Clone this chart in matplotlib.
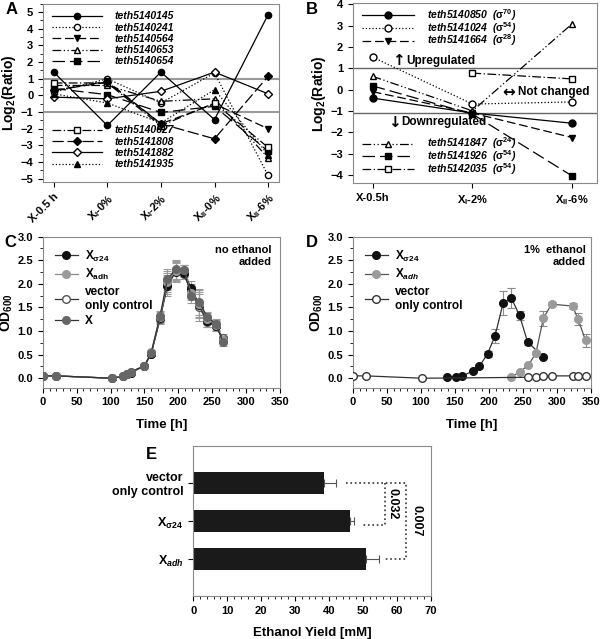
import matplotlib
matplotlib.use('Agg')
import matplotlib.pyplot as plt
from matplotlib.ticker import MultipleLocator

plt.rcParams['font.family'] = ['Liberation Sans', 'DejaVu Sans']
plt.rcParams['font.weight'] = 'bold'
plt.rcParams['axes.labelweight'] = 'bold'
plt.rcParams['mathtext.fontset'] = 'custom'
plt.rcParams['mathtext.default'] = 'bf'
plt.rcParams['mathtext.bf'] = 'Liberation Sans:bold'
plt.rcParams['mathtext.rm'] = 'Liberation Sans:bold'
plt.rcParams['mathtext.it'] = 'Liberation Sans:italic:bold'
plt.rcParams['axes.edgecolor'] = '#8a8a8a'
plt.rcParams['xtick.labelsize'] = 8
plt.rcParams['ytick.labelsize'] = 8

# ---- panel A data ----
a_conditions = ['X-0.5 h', 'X$_I$-0%', 'X$_I$-2%', 'X$_{II}$-0%', 'X$_{II}$-6%']
a_genes = ['teth5140145', 'teth5140241', 'teth5140564', 'teth5140653', 'teth5140654',
           'teth5140627', 'teth5141808', 'teth5141882', 'teth5141935']
teth5140145 = [1.4, -1.8, 1.4, -1.45, 4.85]
teth5140241 = [0.2, 1.0, -0.45, 1.35, -4.8]
teth5140564 = [0.3, 0.85, -1.7, -0.5, -2.0]
teth5140653 = [0.6, 0.6, -0.35, -0.2, -3.75]
teth5140654 = [0.42, 0.05, -1.02, -0.65, -3.35]
teth5140627 = [0.75, 0.75, -1.82, -0.45, -3.12]
teth5141808 = [0.3, 0.8, -1.7, -2.6, 1.15]
teth5141882 = [-0.1, -0.2, 0.25, 1.4, 0.1]
teth5141935 = [0.1, -0.45, -1.65, 0.35, -3.55]

# ---- panel B data ----
b_conditions = ['X-0.5h', 'X$_I$-2%', 'X$_{II}$-6%']
teth5140850 = [-0.4, -1.1, -1.58]
teth5141024 = [1.52, -0.68, -0.58]
teth5141664 = [-0.1, -1.1, -2.25]
teth5141847 = [0.62, -1.0, 3.08]
teth5141926 = [0.17, -1.15, -4.05]
teth5142035 = [None, 0.77, 0.5]

# ---- panel C data ----
time_c = [0, 20, 102, 118, 124, 130, 150, 160, 173, 184, 196, 208, 219, 231, 243, 255, 266]
xs24_c = [0.05, 0.05, 0.0, 0.04, 0.08, 0.12, 0.26, 0.52, 1.27, 1.96, 2.25, 2.24, 1.92, 1.55, 1.21, 1.11, 0.82]
xadh_c = [0.05, 0.05, 0.0, 0.05, 0.09, 0.13, 0.27, 0.55, 1.30, 2.05, 2.28, 2.30, 1.80, 1.58, 1.26, 1.13, 0.80]
vec_c = [0.05, 0.05, 0.0, 0.04, 0.08, 0.12, 0.26, 0.52, 1.25, 2.00, 2.27, 2.20, 1.85, 1.50, 1.20, 1.10, 0.85]
x_c = [0.05, 0.05, 0.0, 0.04, 0.09, 0.14, 0.26, 0.54, 1.32, 2.10, 2.31, 2.29, 1.75, 1.61, 1.29, 1.16, 0.77]
err_c = [0, 0, 0, 0.01, 0.02, 0.02, 0.03, 0.04, 0.10, 0.22, 0.20, 0.10, 0.15, 0.28, 0.12, 0.10, 0.08]

# ---- panel D data ----
time_s24_d = [139, 151, 161, 176, 186, 198, 209, 221, 233, 245, 257, 280]
xs24_d = [0.02, 0.02, 0.05, 0.15, 0.25, 0.52, 0.90, 1.60, 1.70, 1.33, 0.76, 0.46]
err_s24_d = [0, 0, 0, 0.02, 0.03, 0.06, 0.15, 0.25, 0.22, 0.10, 0.05, 0.03]
time_adh_d = [233, 245, 258, 269, 280, 292, 323, 331, 342]
xadh_d = [0.03, 0.13, 0.28, 0.53, 1.27, 1.57, 1.53, 1.25, 0.80]
err_adh_d = [0.01, 0.02, 0.03, 0.04, 0.16, 0.04, 0.06, 0.13, 0.13]
time_vec_d = [0, 20, 102, 258, 269, 280, 292, 323, 331, 342]
vec_d = [0.05, 0.05, 0.0, 0.02, 0.03, 0.04, 0.05, 0.05, 0.05, 0.05]

# ---- panel E data ----
e_strains = ['vector\nonly control', 'X$_{\\sigma24}$', 'X$_{\\mathit{adh}}$']
e_yield = [38.4, 46.3, 50.8]
e_err = [3.8, 1.0, 4.0]

fig = plt.figure(figsize=(6, 6.39), dpi=100)
legfont = {'size': 7.5, 'weight': 'bold', 'style': 'italic'}

# ================= A =================
axA = fig.add_axes([0.0717, 0.715, 0.393, 0.279])
xa = range(len(a_conditions))
styles_a = [
    (teth5140145, '-', 'o', 'k'),
    (teth5140241, ':', 'o', 'w'),
    (teth5140564, (0, (7, 3)), 'v', 'k'),
    (teth5140653, (0, (7, 2, 1, 2, 1, 2)), '^', 'w'),
    (teth5140654, (0, (10, 4)), 's', 'k'),
    (teth5140627, (0, (7, 2, 1, 2)), 's', 'w'),
    (teth5141808, (0, (9, 3)), 'D', 'k'),
    (teth5141882, '-', 'D', 'w'),
    (teth5141935, ':', '^', 'k'),
]
axA.axhline(1, color='#9a9a9a', lw=1.5, zorder=1)
axA.axhline(-1, color='#9a9a9a', lw=1.5, zorder=1)
handles_a = []
for (vals, ls, mk, fc), name in zip(styles_a, a_genes):
    h, = axA.plot(xa, vals, linestyle=ls, marker=mk, color='k', mfc=fc, mec='k',
                  ms=4.5, lw=0.9, label=name, zorder=3)
    handles_a.append(h)
axA.set_xlim(-0.2, 4.2)
axA.set_ylim(-5.2, 5.5)
axA.set_yticks(range(-5, 6))
axA.yaxis.set_minor_locator(MultipleLocator(0.5))
axA.set_xticks(list(xa))
axA.set_xticklabels(a_conditions, rotation=45, ha='right', rotation_mode='anchor')
axA.set_ylabel('Log$_2$(Ratio)', fontsize=10, labelpad=2)
leg_a1 = axA.legend(handles=handles_a[:5], loc='upper left', bbox_to_anchor=(0.0, 1.01),
                    frameon=False, handlelength=4.8, handletextpad=1.2, labelspacing=0.12,
                    prop=legfont)
axA.add_artist(leg_a1)
axA.legend(handles=handles_a[5:], loc='lower left', bbox_to_anchor=(0.0, 0.02),
           frameon=False, handlelength=4.8, handletextpad=1.2, labelspacing=0.12,
           prop=legfont)
fig.text(0.01, 0.997, 'A', fontsize=12, weight='bold', va='top')

# ================= B =================
axB = fig.add_axes([0.588, 0.713, 0.407, 0.282])
xb = range(len(b_conditions))
axB.axhline(1, color='#666666', lw=1.0, zorder=1)
axB.axhline(-1.08, color='#666666', lw=1.0, zorder=1)
styles_b = [
    (teth5140850, '-', 'o', 'k', 'teth5140850', '70'),
    (teth5141024, ':', 'o', 'w', 'teth5141024', '54'),
    (teth5141664, (0, (7, 3)), 'v', 'k', 'teth5141664', '28'),
    (teth5141847, (0, (7, 2, 1, 2, 1, 2)), '^', 'w', 'teth5141847', '24'),
    (teth5141926, (0, (10, 4)), 's', 'k', 'teth5141926', '54'),
    (teth5142035, (0, (7, 2, 1, 2)), 's', 'w', 'teth5142035', '54'),
]
handles_b = []
for vals, ls, mk, fc, name, sig in styles_b:
    xs = [i for i, v in zip(xb, vals) if v is not None]
    ys = [v for v in vals if v is not None]
    h, = axB.plot(xs, ys, linestyle=ls, marker=mk, color='k', mfc=fc, mec='k',
                  ms=5, lw=0.9, label=name + '  ($\\sigma^{' + sig + '}$)', zorder=3)
    handles_b.append(h)
axB.set_xlim(-0.2, 2.25)
axB.set_ylim(-4.4, 4.05)
axB.set_yticks(range(-4, 5))
axB.set_xticks(list(xb))
axB.set_xticklabels(b_conditions)
axB.set_ylabel('Log$_2$(Ratio)', fontsize=10, labelpad=2)
leg_b1 = axB.legend(handles=handles_b[:3], loc='upper left', bbox_to_anchor=(0.0, 1.03),
                    frameon=False, handlelength=5.0, handletextpad=1.2, labelspacing=-0.3,
                    prop=legfont)
axB.add_artist(leg_b1)
axB.legend(handles=handles_b[3:], loc='lower left', bbox_to_anchor=(0.0, -0.015),
           frameon=False, handlelength=5.0, handletextpad=1.2, labelspacing=-0.3,
           prop=legfont)
arrowfont = ['DejaVu Sans']
axB.text(0.26, 1.38, '\u2191', fontsize=11, va='center', ha='center', family=arrowfont)
axB.text(0.335, 1.35, 'Upregulated', fontsize=8.5, va='center')
axB.text(1.36, -0.12, '\u2194', fontsize=11, va='center', ha='center', family=arrowfont)
axB.text(1.46, -0.12, 'Not changed', fontsize=8.5, va='center')
axB.text(0.22, -1.55, '\u2193', fontsize=11, va='center', ha='center', family=arrowfont)
axB.text(0.285, -1.52, 'Downregulated', fontsize=8.5, va='center')
fig.text(0.51, 0.997, 'B', fontsize=12, weight='bold', va='top')


def growth_axes(ax):
    ax.set_xlim(0, 350)
    ax.set_ylim(-0.2, 3.0)
    ax.set_xticks(range(0, 351, 50))
    ax.xaxis.set_minor_locator(MultipleLocator(10))
    ax.set_yticks([0, 0.5, 1.0, 1.5, 2.0, 2.5, 3.0])
    ax.set_yticklabels(['0.0', '0.5', '1.0', '1.5', '2.0', '2.5', '3.0'])
    ax.yaxis.set_minor_locator(MultipleLocator(0.25))
    ax.set_xlabel('Time [h]', fontsize=9.5, labelpad=8)
    ax.set_ylabel('OD$_{600}$', fontsize=10)
    ax.yaxis.set_label_coords(-0.115, 0.5)


# ================= C =================
axC = fig.add_axes([0.0712, 0.3933, 0.3955, 0.2363])
series_c = [
    (vec_c, 'w', '#555555', '#333333', 'vector\nonly control'),
    (xs24_c, '#111111', '#111111', '#333333', 'X$_{\\sigma24}$'),
    (xadh_c, '#9a9a9a', '#9a9a9a', '#8a8a8a', 'X$_{adh}$'),
    (x_c, '#666666', '#666666', '#333333', 'X'),
]
hc = {}
for vals, fc, ec, lc, name in series_c:
    axC.errorbar(time_c, vals, yerr=err_c, color='#9a9a9a', lw=0, elinewidth=0.8,
                 capsize=3, capthick=0.8, zorder=2)
    h, = axC.plot(time_c, vals, '-o', color=lc, mfc=fc, mec=ec, ms=5.5, lw=0.9,
                  label=name, zorder=3)
    hc[name] = h
growth_axes(axC)
axC.legend(handles=[hc['X$_{\\sigma24}$'], hc['X$_{adh}$'], hc['vector\nonly control'], hc['X']],
           loc='upper left', frameon=False, handlelength=2.0, handletextpad=0.6,
           labelspacing=0.3, prop={'size': 8.5, 'weight': 'bold'}, borderaxespad=0.6)
axC.text(0.965, 0.945, 'no ethanol\nadded', transform=axC.transAxes, ha='right', va='top',
         fontsize=8)
fig.text(0.008, 0.632, 'C', fontsize=12, weight='bold', va='top')

# ================= D =================
axD = fig.add_axes([0.588, 0.3933, 0.397, 0.2363])
axD.errorbar(time_s24_d, xs24_d, yerr=err_s24_d, color='#8a8a8a', lw=0, elinewidth=0.8,
             capsize=3, capthick=0.8, zorder=2)
axD.errorbar(time_adh_d, xadh_d, yerr=err_adh_d, color='#8a8a8a', lw=0, elinewidth=0.8,
             capsize=3, capthick=0.8, zorder=2)
h1, = axD.plot(time_s24_d, xs24_d, '-o', color='#333333', mfc='#111111', mec='#111111',
               ms=5.5, lw=0.9, label='X$_{\\sigma24}$', zorder=3)
h2, = axD.plot(time_adh_d, xadh_d, '-o', color='#555555', mfc='#9a9a9a', mec='#9a9a9a',
               ms=5.5, lw=0.9, label='X$_{\\mathit{adh}}$', zorder=3)
h3, = axD.plot(time_vec_d, vec_d, '-o', color='#333333', mfc='w', mec='#333333',
               ms=5.5, lw=0.9, label='vector\nonly control', zorder=3)
growth_axes(axD)
axD.legend(handles=[h1, h2, h3], loc='upper left', frameon=False, handlelength=2.0,
           handletextpad=0.6, labelspacing=0.3, prop={'size': 8.5, 'weight': 'bold'},
           borderaxespad=0.6)
axD.text(0.979, 0.945, '1%  ethanol\nadded', transform=axD.transAxes, ha='right', va='top',
         fontsize=8)
fig.text(0.51, 0.632, 'D', fontsize=12, weight='bold', va='top')

# ================= E =================
axE = fig.add_axes([0.322, 0.0673, 0.396, 0.2347])
ye = range(len(e_strains))
axE.barh(list(ye), e_yield, height=0.6, color='#1a1a1a', zorder=2)
axE.errorbar(e_yield, list(ye), xerr=[[0, 0, 0], e_err], fmt='none', ecolor='#555555',
             elinewidth=0.8, capsize=3, capthick=0.8, zorder=3)
axE.set_xlim(0, 70)
axE.set_ylim(2.97, -0.97)
axE.set_yticks(list(ye))
axE.set_yticklabels(e_strains, fontsize=9)
axE.set_xticks(range(0, 71, 10))
axE.xaxis.set_minor_locator(MultipleLocator(2))
axE.set_xlabel('Ethanol Yield [mM]', fontsize=9.5, labelpad=8)
# significance brackets
br = dict(color='#333333', lw=1.2, linestyle=':', zorder=3)
axE.plot([45, 62.8, 62.8, 55.9], [0, 0, 2, 2], **br)
axE.plot([56.4, 56.4, 49.8], [0, 1.1, 1.1], **br)
axE.text(58.8, 0.55, '0.032', rotation=270, ha='center', va='center', fontsize=9)
axE.text(65.8, 1.0, '0.007', rotation=270, ha='center', va='center', fontsize=9)
fig.text(0.243, 0.30, 'E', fontsize=12, weight='bold', va='top')

plt.savefig('out.png', dpi=100)
